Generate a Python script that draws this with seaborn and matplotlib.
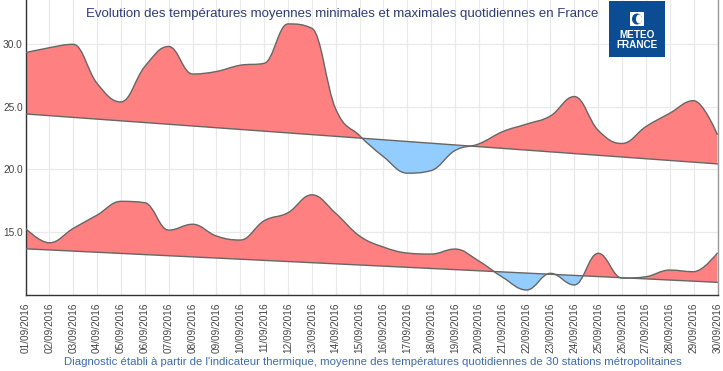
import matplotlib
matplotlib.use("Agg")
import matplotlib.pyplot as plt
import seaborn as sns
import pandas as pd
from matplotlib.path import Path
from matplotlib.patches import PathPatch, Polygon, Ellipse, Rectangle

# ---------------- data ----------------
days = list(range(1, 31))
tick_labels = ["%02d/09/2016" % d for d in days]
tmax = [29.3, 29.7, 29.97, 26.85, 25.37, 28.2, 29.8, 27.6, 27.8, 28.3,
        28.45, 31.6, 31.25, 24.8, 22.68, 21.0, 19.68, 19.89, 21.49, 22.02,
        23.0, 23.6, 24.25, 25.8, 23.1, 22.05, 23.4, 24.47, 25.47, 22.74]
tmin = [15.27, 14.12, 15.27, 16.33, 17.43, 17.32, 15.13, 15.6, 14.66, 14.34,
        15.88, 16.52, 17.95, 16.47, 14.66, 13.78, 13.3, 13.22, 13.62, 12.66,
        11.36, 10.35, 11.68, 10.75, 13.28, 11.3, 11.41, 11.94, 11.81, 13.32]
normal_days = [1, 30]
normal_max = [24.41, 20.42]
normal_min = [13.64, 10.96]
yticks = [15.0, 20.0, 25.0, 30.0]

title = "Evolution des températures moyennes minimales et maximales quotidiennes en France"
caption = ("Diagnostic établi à partir de l'indicateur thermique, moyenne des "
           "températures quotidiennes de 30 stations métropolitaines")

RED = "#FF8080"
BLUE = "#93CDFF"
EDGE = "#666666"

sns.set_style("white")
plt.rcParams["font.family"] = ["Liberation Sans", "DejaVu Sans"]


def spline_path(xs, ys, smoothing=1.5):
    n = len(xs)
    lc = [None] * n
    rc = [None] * n
    d = smoothing + 1.0
    for i in range(1, n - 1):
        x, y = xs[i], ys[i]
        px, py = xs[i - 1], ys[i - 1]
        nx, ny = xs[i + 1], ys[i + 1]
        lcx = (smoothing * x + px) / d
        lcy = (smoothing * y + py) / d
        rcx = (smoothing * x + nx) / d
        rcy = (smoothing * y + ny) / d
        if rcx != lcx:
            corr = ((rcy - lcy) * (rcx - x)) / (rcx - lcx) + y - rcy
            lcy += corr
            rcy += corr
        if lcy > py and lcy > y:
            lcy = max(py, y); rcy = 2 * y - lcy
        elif lcy < py and lcy < y:
            lcy = min(py, y); rcy = 2 * y - lcy
        if rcy > ny and rcy > y:
            rcy = max(ny, y); lcy = 2 * y - rcy
        elif rcy < ny and rcy < y:
            rcy = min(ny, y); lcy = 2 * y - rcy
        lc[i] = (lcx, lcy)
        rc[i] = (rcx, rcy)
    verts = [(xs[0], ys[0])]
    codes = [Path.MOVETO]
    for i in range(1, n):
        c1 = rc[i - 1] if rc[i - 1] is not None else (xs[i - 1], ys[i - 1])
        c2 = lc[i] if lc[i] is not None else (xs[i], ys[i])
        verts += [c1, c2, (xs[i], ys[i])]
        codes += [Path.CURVE4] * 3
    return verts, codes


fig = plt.figure(figsize=(7.23, 3.71), dpi=100)
ax = fig.add_axes([25.5 / 723, 1 - 295 / 371, (717.5 - 25.5) / 723, 295 / 371])

YMIN, YMAX = 9.95, 33.51
ax.set_xlim(1, 30)
ax.set_ylim(YMIN, YMAX)

for series, normal in ((tmax, normal_max), (tmin, normal_min)):
    verts, codes = spline_path(days, series)
    fverts = verts + [(normal_days[1], normal[1]), (normal_days[0], normal[0]), verts[0]]
    fcodes = codes + [Path.LINETO, Path.LINETO, Path.CLOSEPOLY]
    above = Polygon([(normal_days[0], normal[0]), (normal_days[1], normal[1]),
                     (normal_days[1], 100), (normal_days[0], 100)],
                    closed=True, transform=ax.transData)
    below = Polygon([(normal_days[0], normal[0]), (normal_days[1], normal[1]),
                     (normal_days[1], -100), (normal_days[0], -100)],
                    closed=True, transform=ax.transData)
    for col, clip in ((RED, above), (BLUE, below)):
        p = PathPatch(Path(fverts, fcodes), facecolor=col, edgecolor="none",
                      lw=0, zorder=2)
        ax.add_patch(p)
        p.set_clip_path(clip)
    ax.add_patch(PathPatch(Path(verts, codes), facecolor="none", edgecolor=EDGE,
                           lw=1.0, zorder=3))
    sns.lineplot(x=normal_days, y=normal, ax=ax, color=EDGE, lw=1.0, zorder=3)

ax.set_xticks(days)
ax.set_xticklabels(tick_labels, rotation=90, fontsize=7.2, color="#444444")
ax.set_yticks(yticks)
ax.set_yticklabels(["%.1f" % v for v in yticks], fontsize=7.3, color="#444444")
ax.tick_params(axis="x", length=0, pad=5.5)
ax.tick_params(axis="y", length=0, pad=2)
ax.grid(True, color="#E9E9E9", lw=0.9, zorder=0)
ax.set_axisbelow(True)
for side in ("left", "bottom"):
    ax.spines[side].set_color("#333333")
    ax.spines[side].set_linewidth(1.0)
ax.spines["right"].set_color("#999999")
ax.spines["right"].set_linewidth(1.0)
ax.spines["top"].set_visible(False)
ax.set_xlabel("")
ax.set_ylabel("")

fig.text(342 / 723, 1 - 14 / 371, title, ha="center", va="center",
         fontsize=9.5, color="#2E3B78")
fig.text(372.5 / 723, 1 - 362 / 371, caption, ha="center", va="center",
         fontsize=8.2, color="#3D6AB0")

# logo
lax = fig.add_axes([609 / 723, 1 - 57 / 371, 56 / 723, 56 / 371])
lax.set_xlim(0, 56)
lax.set_ylim(56, 0)
lax.axis("off")
lax.add_patch(Rectangle((0, 0), 56, 56, facecolor="#0B4C92", edgecolor="none"))
lax.add_patch(Rectangle((21, 11), 14, 14, facecolor="white", edgecolor="none"))
lax.add_patch(Ellipse((28, 18), 10, 11, facecolor="#0B4C92", edgecolor="none"))
lax.add_patch(Ellipse((30, 18), 6, 9, facecolor="white", edgecolor="none"))
lax.text(28, 34, "METEO", ha="center", va="center", color="white",
         fontsize=7.2, fontweight="bold")
lax.text(28, 44, "FRANCE", ha="center", va="center", color="white",
         fontsize=7.2, fontweight="bold")

fig.savefig("out.png", dpi=100)
